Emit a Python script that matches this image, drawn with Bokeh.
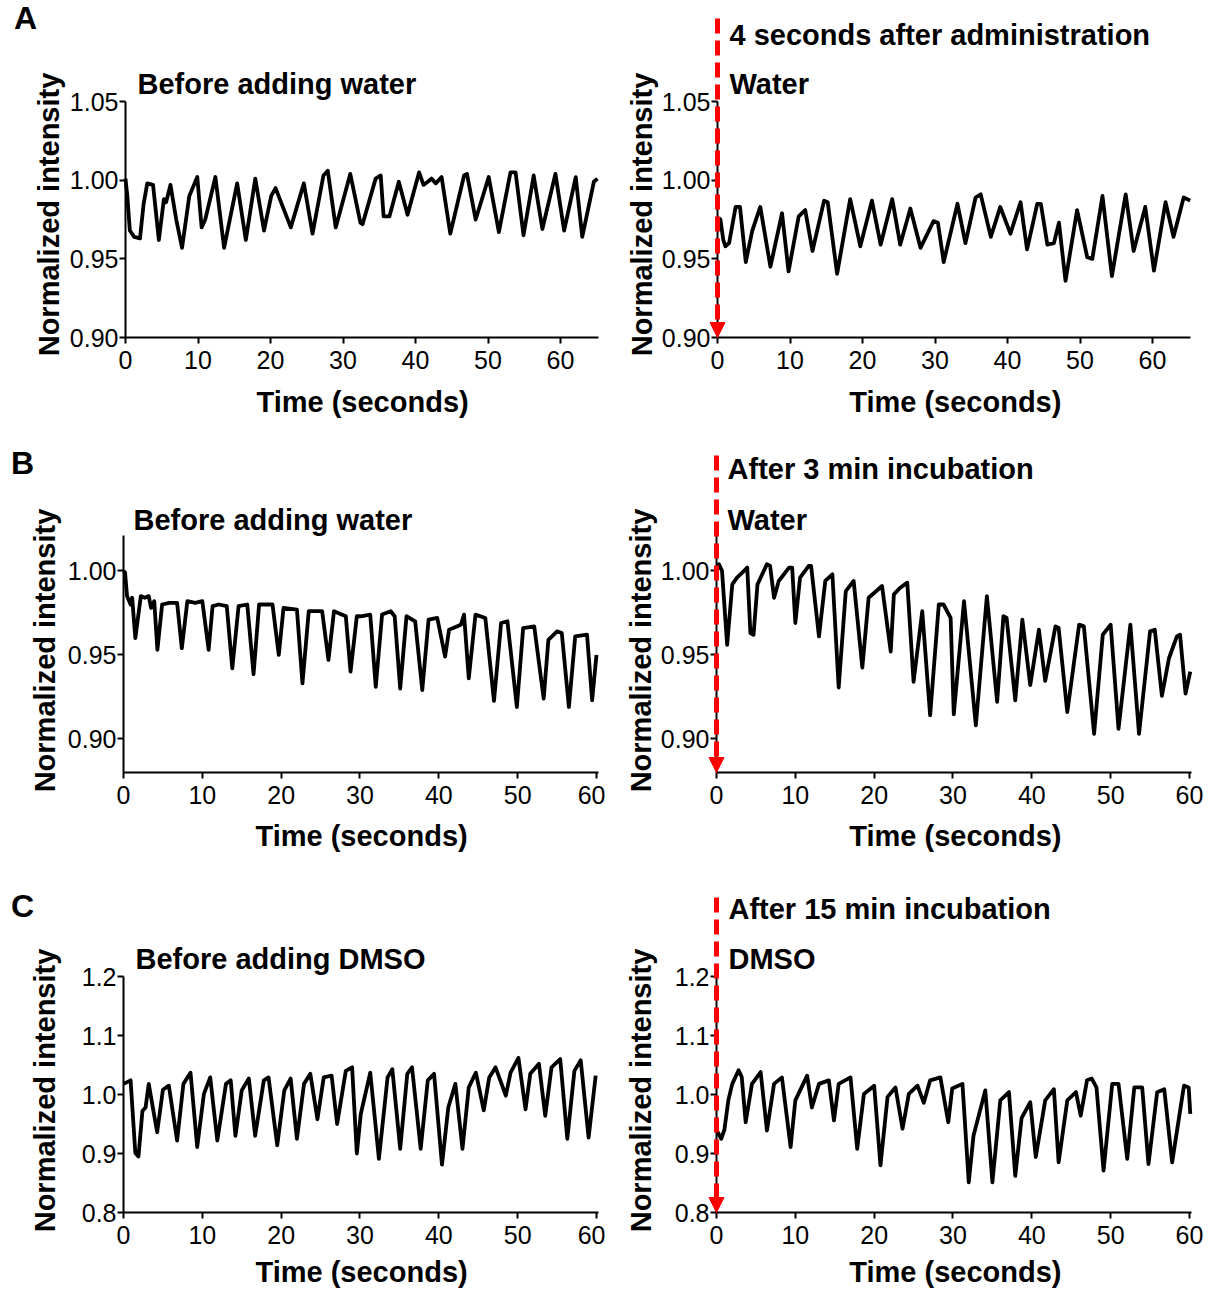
from bokeh.plotting import figure
from bokeh.layouts import column, row
from bokeh.models import Label, Arrow, NormalHead, FixedTicker, PrintfTickFormatter, Range1d
from bokeh.embed import file_html
from bokeh.resources import INLINE

FONT = "Liberation Sans"

# ---------------- data (time in s, normalized intensity) ----------------
a_left_t = [0.0, 0.25, 0.6, 1.2, 2.0, 2.5, 3.0, 3.8, 4.6, 5.3, 5.6, 6.2, 7.0, 7.8, 8.8, 9.9, 10.5, 11.0,
            12.4, 13.6, 15.4, 16.6, 17.9, 19.1, 20.1, 20.7, 22.8, 24.6, 25.8, 27.3, 27.9, 29.0, 31.0, 32.4,
            32.7, 34.5, 35.2, 35.6, 36.4, 37.7, 38.9, 40.5, 41.1, 41.7, 42.2, 42.8, 43.6, 44.8, 46.7, 47.1,
            48.3, 50.1, 51.5, 53.1, 53.8, 54.9, 56.3, 57.5, 59.3, 60.5, 62.1, 63.0, 64.6, 65.1]
a_left_v = [1.001, 0.990, 0.968, 0.964, 0.963, 0.985, 0.998, 0.997, 0.962, 0.988, 0.986, 0.997, 0.975, 0.957,
            0.990, 1.002, 0.970, 0.975, 1.002, 0.957, 0.998, 0.962, 1.001, 0.968, 0.990, 0.995, 0.970, 0.998,
            0.966, 1.003, 1.006, 0.970, 1.004, 0.973, 0.972, 1.001, 1.003, 0.977, 0.977, 0.999, 0.978, 1.005,
            0.997, 0.999, 1.001, 0.998, 1.002, 0.966, 1.003, 1.004, 0.975, 1.002, 0.967, 1.005, 1.005, 0.965,
            1.003, 0.969, 1.004, 0.968, 1.002, 0.964, 0.999, 1.001]

a_right_t = [0.15, 0.4, 0.8, 1.1, 1.6, 2.5, 3.1, 3.9, 4.8, 5.9, 7.3, 8.9, 9.8, 11.2, 12.1, 13.1, 14.7, 15.2,
             16.5, 18.3, 19.7, 21.3, 22.5, 24.1, 25.2, 26.6, 28.0, 29.8, 30.4, 31.2, 33.1, 34.2, 35.6, 36.3,
             37.7, 39.0, 40.4, 41.8, 42.7, 44.1, 44.6, 45.5, 46.4, 47.1, 48.0, 49.6, 51.0, 51.7, 53.1, 54.4,
             56.3, 57.4, 59.0, 60.2, 61.8, 62.9, 64.3, 65.2]
a_right_v = [0.976, 0.975, 0.962, 0.958, 0.960, 0.983, 0.983, 0.948, 0.968, 0.983, 0.945, 0.979, 0.942, 0.977,
             0.981, 0.955, 0.987, 0.986, 0.9405, 0.988, 0.958, 0.987, 0.959, 0.988, 0.959, 0.982, 0.957, 0.974,
             0.973, 0.948, 0.985, 0.960, 0.989, 0.991, 0.964, 0.983, 0.966, 0.986, 0.956, 0.985, 0.985, 0.959,
             0.960, 0.973, 0.936, 0.981, 0.951, 0.950, 0.990, 0.939, 0.991, 0.955, 0.983, 0.9425, 0.986, 0.964,
             0.989, 0.987]

b_left_t = [0.0, 0.2, 0.45, 0.9, 1.1, 1.5, 2.2, 2.7, 3.2, 3.5, 3.9, 4.3, 4.9, 5.8, 6.8, 7.4, 8.1, 9.1, 10.0,
            10.8, 11.3, 12.1, 13.1, 13.8, 14.6, 15.7, 16.5, 17.2, 18.9, 19.7, 20.3, 22.0, 22.7, 23.5, 25.2,
            26.0, 26.7, 28.2, 28.8, 29.6, 30.1, 31.3, 32.0, 32.8, 33.9, 34.4, 35.1, 35.9, 37.0, 37.9, 38.7,
            39.8, 40.8, 41.3, 42.8, 43.2, 43.8, 44.65, 45.9, 47.0, 47.9, 48.7, 49.9, 50.7, 52.1, 53.3, 53.9,
            55.0, 55.6, 56.5, 57.3, 58.8, 59.45, 60.0]
b_left_v = [1.000, 0.999, 0.985, 0.980, 0.984, 0.960, 0.985, 0.984, 0.985, 0.978, 0.982, 0.953, 0.980, 0.981,
            0.981, 0.954, 0.982, 0.981, 0.982, 0.953, 0.979, 0.980, 0.979, 0.942, 0.979, 0.980, 0.9385, 0.980,
            0.980, 0.950, 0.978, 0.977, 0.933, 0.976, 0.976, 0.947, 0.976, 0.973, 0.940, 0.973, 0.973, 0.974,
            0.931, 0.974, 0.976, 0.973, 0.930, 0.973, 0.970, 0.929, 0.971, 0.972, 0.949, 0.965, 0.968, 0.974,
            0.936, 0.974, 0.972, 0.9226, 0.969, 0.970, 0.919, 0.966, 0.967, 0.924, 0.959, 0.964, 0.963, 0.919,
            0.961, 0.962, 0.923, 0.950]

b_right_t = [0.0, 0.3, 0.7, 1.35, 2.0, 2.6, 3.5, 3.9, 4.3, 4.7, 5.2, 6.4, 6.8, 7.3, 7.9, 9.2, 9.6, 10.0, 10.6,
             11.7, 12.0, 13.0, 13.8, 14.7, 15.5, 16.4, 17.4, 18.5, 19.3, 21.0, 22.1, 22.5, 23.3, 24.2, 25.0,
             26.1, 27.1, 28.2, 28.8, 29.7, 30.1, 31.4, 32.9, 34.3, 35.6, 36.4, 36.8, 37.9, 38.8, 39.8, 40.9,
             41.7, 43.0, 43.4, 44.5, 46.0, 46.6, 47.9, 49.0, 50.0, 51.0, 52.5, 53.6, 55.0, 55.6, 56.5, 57.4,
             58.4, 58.8, 59.5, 60.1]
b_right_v = [1.001, 1.004, 1.000, 0.956, 0.992, 0.996, 1.000, 1.002, 0.963, 0.962, 0.992, 1.004, 1.003, 0.984,
             0.994, 1.002, 1.002, 0.969, 0.996, 1.003, 1.003, 0.961, 0.994, 0.998, 0.9306, 0.988, 0.994, 0.9425,
             0.984, 0.991, 0.952, 0.986, 0.990, 0.993, 0.934, 0.976, 0.914, 0.980, 0.980, 0.972, 0.9147, 0.982,
             0.908, 0.985, 0.922, 0.973, 0.972, 0.923, 0.971, 0.932, 0.965, 0.9345, 0.967, 0.966, 0.916, 0.968,
             0.967, 0.903, 0.962, 0.968, 0.906, 0.968, 0.903, 0.964, 0.965, 0.9256, 0.948, 0.961, 0.962, 0.927,
             0.940]

c_left_t = [0.0, 0.9, 1.5, 1.9, 2.4, 2.8, 3.2, 4.27, 5.0, 5.75, 6.8, 7.6, 8.5, 9.35, 10.2, 11.0, 11.9, 13.0,
            13.6, 14.2, 15.0, 15.9, 16.7, 17.8, 18.4, 19.5, 20.4, 21.2, 22.0, 22.9, 23.7, 24.6, 25.4, 26.4,
            27.1, 28.2, 29.0, 29.6, 30.1, 31.3, 32.4, 33.5, 34.1, 35.1, 36.0, 36.6, 37.7, 38.6, 39.4, 40.4,
            41.2, 42.1, 43.0, 43.8, 44.7, 45.7, 46.4, 47.2, 48.5, 49.1, 50.1, 51.0, 51.6, 52.7, 53.5, 54.3,
            55.4, 56.3, 57.2, 58.0, 59.0, 59.9]
c_left_v = [1.018, 1.024, 0.901, 0.895, 0.972, 0.978, 1.018, 0.936, 1.008, 1.015, 0.922, 1.018, 1.037, 0.911,
            1.001, 1.029, 0.922, 1.018, 1.024, 0.930, 1.007, 1.027, 0.930, 1.024, 1.029, 0.914, 1.007, 1.027,
            0.925, 1.018, 1.035, 0.958, 1.029, 1.032, 0.950, 1.040, 1.046, 0.900, 0.967, 1.037, 0.891, 1.029,
            1.043, 0.908, 1.035, 1.046, 0.908, 1.024, 1.035, 0.881, 0.978, 1.018, 0.908, 1.012, 1.037, 0.973,
            1.029, 1.046, 0.998, 1.037, 1.062, 0.975, 1.035, 1.052, 0.964, 1.046, 1.060, 0.925, 1.040, 1.058,
            0.927, 1.032]

c_right_t = [0.0, 0.6, 1.0, 1.5, 2.0, 2.8, 3.2, 3.7, 4.5, 5.6, 6.4, 7.3, 8.3, 9.4, 10.0, 11.5, 12.1, 13.0,
             14.25, 14.9, 15.5, 17.0, 17.85, 18.7, 20.0, 20.8, 21.7, 22.7, 23.6, 24.4, 25.5, 26.3, 27.1, 28.4,
             29.4, 29.9, 31.2, 32.0, 32.6, 34.1, 35.0, 36.0, 37.1, 37.9, 38.7, 39.8, 40.5, 41.7, 42.8, 43.4,
             44.5, 45.6, 46.2, 47.0, 47.6, 48.2, 49.1, 50.2, 51.0, 52.1, 53.0, 54.0, 54.8, 55.9, 56.8, 57.8,
             59.3, 59.9, 60.1]
c_right_v = [0.940, 0.925, 0.940, 0.990, 1.018, 1.041, 1.030, 0.953, 1.018, 1.038, 0.939, 1.018, 1.029, 0.911,
             0.990, 1.032, 0.978, 1.018, 1.024, 0.956, 1.018, 1.029, 0.908, 1.001, 1.015, 0.880, 0.996, 1.012,
             0.942, 1.001, 1.015, 0.986, 1.024, 1.029, 0.953, 1.010, 1.018, 0.851, 0.930, 1.007, 0.851, 0.990,
             1.004, 0.862, 0.960, 0.987, 0.894, 0.990, 1.009, 0.885, 0.990, 1.004, 0.964, 1.024, 1.027, 1.012,
             0.871, 1.018, 1.018, 0.891, 1.012, 1.012, 0.882, 1.004, 1.009, 0.885, 1.015, 1.012, 0.967]

x_ticks = [0, 10, 20, 30, 40, 50, 60]
a_y_ticks = [0.90, 0.95, 1.00, 1.05]
b_y_ticks = [0.90, 0.95, 1.00]
c_y_ticks = [0.8, 0.9, 1.0, 1.1, 1.2]

x_label = "Time (seconds)"
y_label = "Normalized intensity"


def make_fig(w, h, xr, yr, yticks, yfmt, ybounds, xbounds):
    p = figure(width=w, height=h, x_range=Range1d(*xr), y_range=Range1d(*yr),
               output_backend="svg", toolbar_location=None,
               min_border_left=0, min_border_right=0, min_border_top=0, min_border_bottom=0)
    p.outline_line_color = None
    p.grid.visible = False
    p.background_fill_color = "white"
    p.border_fill_color = "white"
    for ax in (p.xaxis[0], p.yaxis[0]):
        ax.axis_line_width = 2
        ax.major_tick_line_width = 2
        ax.major_tick_in = 0
        ax.major_tick_out = 6
        ax.minor_tick_line_color = None
        ax.major_label_text_font = FONT
        ax.major_label_text_font_size = "25px"
        ax.major_label_text_color = "black"
    p.xaxis.ticker = FixedTicker(ticks=x_ticks)
    p.yaxis.ticker = FixedTicker(ticks=yticks)
    p.yaxis.formatter = PrintfTickFormatter(format=yfmt)
    p.xaxis.major_label_standoff = 7
    p.yaxis.major_label_standoff = 1
    p.yaxis.fixed_location = 0
    p.xaxis.fixed_location = ybounds[0]
    p.yaxis.bounds = ybounds
    p.xaxis.bounds = xbounds
    return p


def add_text(p, x, y, txt, size="29px", align="left", angle=0):
    p.add_layout(Label(x=x, y=y, text=txt, text_font=FONT, text_font_style="bold",
                       text_font_size=size, text_baseline="middle", text_align=align,
                       angle=angle, angle_units="deg", text_color="black"))


def axis_labels(p, xl_x, xl_y, yl_x, yl_y):
    add_text(p, xl_x, xl_y, x_label, align="center")
    add_text(p, yl_x, yl_y, y_label, align="center", angle=90)


def add_arrow(p, ytop, ybot):
    p.add_layout(Arrow(end=NormalHead(size=15, fill_color="red", line_color="red", line_width=1),
                       x_start=0, y_start=ytop, x_end=0, y_end=ybot,
                       line_color="red", line_width=5, line_dash="15 7"))


def trace(p, t, v):
    p.line(t, v, line_color="black", line_width=3.8, line_join="round")


# x scales: row A 7.25 px/s, rows B and C 7.883 px/s
# Row A (page y 0 -> 445), x axis at page y 337, 1573 px per unit
ya = (0.90 - 108 / 1573, 0.90 + 337 / 1573)
pa1 = make_fig(605, 445, (-125 / 7.25, (605 - 125) / 7.25), ya, a_y_ticks, "%.2f", (0.90, 1.05), (0, 65.25))
trace(pa1, a_left_t, a_left_v)
add_text(pa1, 1.65, 1.0614, "Before adding water")
add_text(pa1, -13.8, 1.1028, "A", size="32px", align="center")
axis_labels(pa1, 32.7, 0.8587, -10.62, 0.9782)

pa2 = make_fig(606, 445, (-112 / 7.25, (606 - 112) / 7.25), ya, a_y_ticks, "%.2f", (0.90, 1.05), (0, 65.2))
add_arrow(pa2, 1.1028, 0.90)
trace(pa2, a_right_t, a_right_v)
add_text(pa2, 1.65, 1.0926, "4 seconds after administration")
add_text(pa2, 1.65, 1.0614, "Water")
axis_labels(pa2, 32.8, 0.8587, -10.48, 0.9782)

# Row B (page y 445 -> 875), x axis at page y 772, 1680 px per unit
yb = (0.88 - 103 / 1680, 0.88 + 327 / 1680)
pb1 = make_fig(605, 430, (-123 / 7.883, (605 - 123) / 7.883), yb, b_y_ticks, "%.2f", (0.88, 1.021), (0, 60.3))
trace(pb1, b_left_t, b_left_v)
add_text(pb1, 1.27, 1.0304, "Before adding water")
add_text(pb1, -12.8, 1.0645, "B", size="32px", align="center")
axis_labels(pb1, 30.2, 0.8425, -9.9, 0.9526)

pb2 = make_fig(606, 430, (-111 / 7.883, (606 - 111) / 7.883), yb, b_y_ticks, "%.2f", (0.88, 1.021), (0, 60.3))
add_arrow(pb2, 1.0687, 0.88)
trace(pb2, b_right_t, b_right_v)
add_text(pb2, 1.4, 1.0607, "After 3 min incubation")
add_text(pb2, 1.4, 1.0304, "Water")
axis_labels(pb2, 30.3, 0.8425, -9.64, 0.9526)

# Row C (page y 875 -> 1290), x axis at page y 1212, 590 px per unit
yc = (0.8 - 78 / 590, 0.8 + 337 / 590)
pc1 = make_fig(605, 415, (-123 / 7.883, (605 - 123) / 7.883), yc, c_y_ticks, "%.1f", (0.8, 1.2), (0, 60.3))
trace(pc1, c_left_t, c_left_v)
add_text(pc1, 1.52, 1.2305, "Before adding DMSO")
add_text(pc1, -12.8, 1.3203, "C", size="32px", align="center")
axis_labels(pc1, 30.2, 0.6990, -9.9, 1.0068)

pc2 = make_fig(606, 415, (-111 / 7.883, (606 - 111) / 7.883), yc, c_y_ticks, "%.1f", (0.8, 1.2), (0, 60.3))
add_arrow(pc2, 1.334, 0.8)
trace(pc2, c_right_t, c_right_v)
add_text(pc2, 1.52, 1.315, "After 15 min incubation")
add_text(pc2, 1.52, 1.2305, "DMSO")
axis_labels(pc2, 30.3, 0.6990, -9.64, 1.0068)

layout = column(row(pa1, pa2, spacing=0), row(pb1, pb2, spacing=0), row(pc1, pc2, spacing=0), spacing=0)
open("out.html", "w").write(file_html(layout, INLINE))
